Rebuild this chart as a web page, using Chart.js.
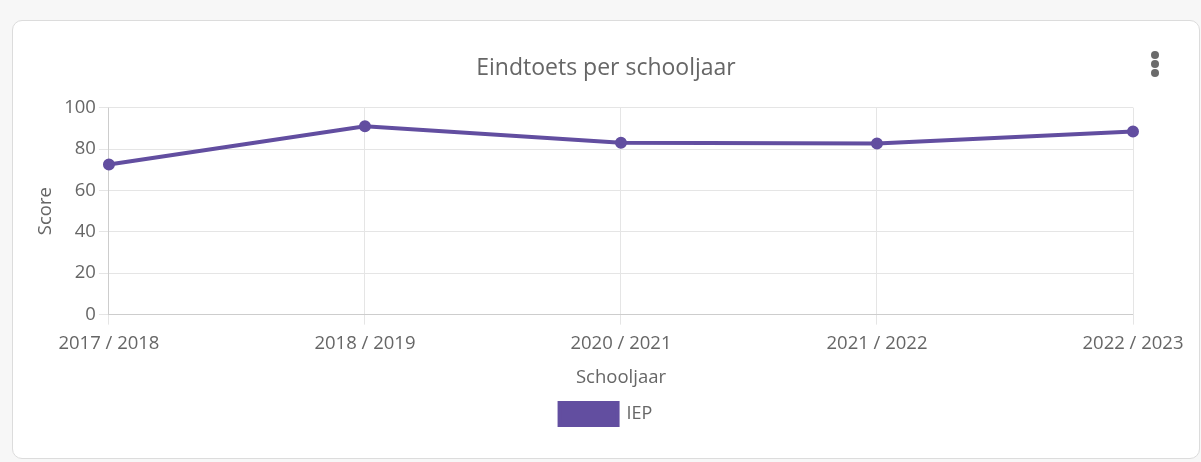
<!DOCTYPE html>
<html>
<head>
<meta charset="utf-8">
<script src="https://cdn.jsdelivr.net/npm/chart.js@4"></script>
<style>
    body { margin: 0; background: #f7f7f7; font-family: "Open Sans", sans-serif; }
    .card {
        position: absolute; left: 12px; top: 20px; width: 1186px; height: 437px;
        background: #fff; border: 1px solid #dcdcdc; border-radius: 10px;
    }
    .chart-box { position: absolute; left: 0; top: 0; width: 1186px; height: 437px; }
    .menu { position: absolute; left: 1138px; top: 30px; width: 10px; }
    .menu span { display: block; width: 8px; height: 8px; border-radius: 50%; background: #6b6b6b; margin-bottom: 1px; }
</style>
</head>
<body>
<div class="card">
    <div class="chart-box"><canvas id="myChartEindtoets"></canvas></div>
    <div class="menu"><span></span><span></span><span></span></div>
</div>
<script>
// Eindtoets per schooljaar - START
const schoolYears = ['2017 / 2018', '2018 / 2019', '2020 / 2021', '2021 / 2022', '2022 / 2023'];
const iepScores = [72.5, 91, 83, 82.7, 88.5];
const scoreTicks = [0, 20, 40, 60, 80, 100];

// title + legend centered on the whole card, not only on the padded area
const centerBlocks = {
    id: 'centerBlocks',
    afterLayout(chart) {
        [chart.titleBlock, chart.legend].forEach(box => {
            const w = box.right - box.left;
            box.left = (chart.width - w) / 2;
            box.right = box.left + w;
        });
    }
};

const data = {
    labels: schoolYears,
    datasets: [{
        label: 'IEP',
        data: iepScores,
        borderColor: 'rgb(98, 78, 160)',
        backgroundColor: 'rgb(98, 78, 160)',
        borderWidth: 4,
        pointRadius: 4,
        pointHoverRadius: 5,
        tension: 0
    }]
};

const config = {
    type: 'line',
    data: data,
    plugins: [centerBlocks],
    options: {
        responsive: true,
        maintainAspectRatio: false,
        animation: false,
        layout: {
            padding: { left: 18, right: 66, top: 24, bottom: 23 }
        },
        plugins: {
            title: {
                display: true,
                text: 'Eindtoets per schooljaar',
                color: '#666',
                font: { family: 'Open Sans', size: 23, weight: 'normal' },
                padding: { top: 10, bottom: 25 }
            },
            legend: {
                display: true,
                position: 'bottom',
                labels: {
                    color: '#666',
                    boxWidth: 58,
                    boxHeight: 22,
                    font: { family: 'Open Sans', size: 18 }
                }
            }
        },
        scales: {
            x: {
                title: {
                    display: true,
                    text: 'Schooljaar',
                    color: '#666',
                    font: { family: 'Open Sans', size: 18.5 }
                },
                ticks: {
                    color: '#666',
                    maxRotation: 0,
                    padding: 8,
                    font: { family: 'Open Sans', size: 18.5 }
                },
                grid: { color: '#e5e5e5', tickLength: 10 }
            },
            y: {
                min: 0,
                max: 100,
                afterBuildTicks: (axis) => { axis.ticks = scoreTicks.map(v => ({ value: v })); },
                title: {
                    display: true,
                    text: 'Score',
                    color: '#666',
                    font: { family: 'Open Sans', size: 18.5 }
                },
                ticks: {
                    color: '#666',
                    font: { family: 'Open Sans', size: 18.5 }
                },
                grid: { color: '#e5e5e5', tickLength: 10 }
            }
        }
    }
};

new Chart("myChartEindtoets", config);
// Eindtoets per schooljaar - END
</script>
</body>
</html>
